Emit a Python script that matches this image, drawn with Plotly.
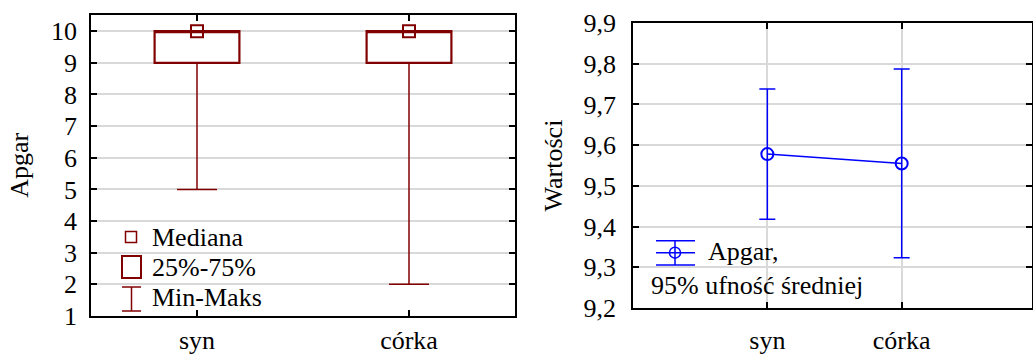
import plotly.graph_objects as go

# ---- data ----
groups = ["syn", "córka"]
q1 = [9, 9]
median = [10, 10]
q3 = [10, 10]
vmin = [5, 2]
vmax = [10, 10]

means = [9.578, 9.555]
ci_low = [9.418, 9.3235]
ci_high = [9.738, 9.787]

left_yticks = [1, 2, 3, 4, 5, 6, 7, 8, 9, 10]
right_yticks = [9.2, 9.3, 9.4, 9.5, 9.6, 9.7, 9.8, 9.9]

W, H = 1033, 356
RED = "#800000"
BLUE = "#0000FF"
GRID = "#d9d9d9"
FONT = "Liberation Serif"
FS = 26

def X(px):
    return px / W

def Y(py):
    return 1 - py / H

fig = go.Figure()

# Box (25%-75%)
fig.add_trace(go.Box(
    x=groups, q1=q1, median=median, q3=q3,
    lowerfence=q1, upperfence=q3,
    width=0.4, whiskerwidth=0,
    fillcolor="rgba(0,0,0,0)",
    line=dict(color=RED, width=2.2),
    boxpoints=False, hoverinfo="skip",
    xaxis="x", yaxis="y", showlegend=False,
))
# Min-Max whiskers
fig.add_trace(go.Scatter(
    x=groups, y=q1, mode="markers",
    marker=dict(size=1, color="rgba(0,0,0,0)"),
    error_y=dict(type="data", symmetric=False,
                 array=[a - b for a, b in zip(vmax, q3)],
                 arrayminus=[a - b for a, b in zip(q1, vmin)],
                 color=RED, thickness=1.5, width=20),
    xaxis="x", yaxis="y", showlegend=False,
))
# Median markers
fig.add_trace(go.Scatter(
    x=groups, y=median, mode="markers",
    marker=dict(symbol="square-open", size=12, color=RED, line=dict(width=2)),
    xaxis="x", yaxis="y", showlegend=False,
))

# Right: means with 95% CI
fig.add_trace(go.Scatter(
    x=groups, y=means, mode="lines+markers",
    line=dict(color=BLUE, width=1.5),
    marker=dict(symbol="circle-open", size=12, color=BLUE, line=dict(width=2)),
    error_y=dict(type="data", symmetric=False,
                 array=[h - m for h, m in zip(ci_high, means)],
                 arrayminus=[m - l for m, l in zip(means, ci_low)],
                 color=BLUE, thickness=1.5, width=8),
    xaxis="x2", yaxis="y2", showlegend=False,
))

axis_common = dict(
    showline=True, linecolor="black", linewidth=1.8, mirror="ticks",
    ticks="inside", ticklen=6, tickcolor="black", tickwidth=1.5,
    tickfont=dict(family=FONT, size=FS, color="black"),
    zeroline=False, automargin=False,
)

fig.update_layout(
    width=W, height=H, autosize=False,
    margin=dict(l=0, r=0, t=0, b=0, pad=0),
    paper_bgcolor="white", plot_bgcolor="white",
    separators=", ",
    font=dict(family=FONT, size=FS, color="black"),
    showlegend=False,
    xaxis=dict(domain=[X(91), X(515)], type="category", range=[-0.5, 1.5],
               showgrid=False, ticklabelstandoff=0, **axis_common),
    yaxis=dict(domain=[Y(316), Y(14.7)], range=[1, 10.52], tickvals=left_yticks,
               showgrid=True, gridcolor=GRID, gridwidth=1.5,
               title=dict(text="Apgar", font=dict(family=FONT, size=FS), standoff=15),
               ticklabelstandoff=7, **axis_common),
    xaxis2=dict(domain=[X(633), X(1032)], type="category", range=[-1, 1.97],
                anchor="y2", showgrid=True, gridcolor=GRID, gridwidth=1.5,
                ticklabelstandoff=8, **axis_common),
    yaxis2=dict(domain=[Y(308), Y(23)], range=[9.2, 9.9], tickvals=right_yticks,
                tickformat=".1f", anchor="x2",
                showgrid=True, gridcolor=GRID, gridwidth=1.5,
                title=dict(text="Wartości", font=dict(family=FONT, size=FS), standoff=13),
                ticklabelstandoff=10, **axis_common),
)

shapes = []
# Left legend symbols
shapes.append(dict(type="rect", xref="paper", yref="paper",
                   x0=X(125.5), x1=X(136.5), y0=Y(242.5), y1=Y(231.5),
                   line=dict(color=RED, width=1.5)))
shapes.append(dict(type="rect", xref="paper", yref="paper",
                   x0=X(122), x1=X(141), y0=Y(278), y1=Y(256),
                   line=dict(color=RED, width=2)))
for (x0, y0, x1, y1) in [(122, 287, 141, 287), (122, 311, 141, 311), (131.5, 287, 131.5, 311)]:
    shapes.append(dict(type="line", xref="paper", yref="paper",
                       x0=X(x0), x1=X(x1), y0=Y(y0), y1=Y(y1),
                       line=dict(color=RED, width=1.5)))
# Right legend symbol
for (x0, y0, x1, y1) in [(656, 240.7, 695, 240.7), (656, 252.7, 695, 252.7),
                         (656, 265, 695, 265), (675, 240.7, 675, 265)]:
    shapes.append(dict(type="line", xref="paper", yref="paper",
                       x0=X(x0), x1=X(x1), y0=Y(y0), y1=Y(y1),
                       line=dict(color=BLUE, width=1.5)))
shapes.append(dict(type="circle", xref="paper", yref="paper",
                   x0=X(669.5), x1=X(680.5), y0=Y(258.2), y1=Y(247.2),
                   line=dict(color=BLUE, width=1.5)))
fig.update_layout(shapes=shapes)

ann = []
for text, px, py in [("Mediana", 150, 237), ("25%-75%", 150, 267), ("Min-Maks", 150, 297),
                     ("Apgar,", 706, 252), ("95% ufność średniej", 649, 285)]:
    ann.append(dict(text=text, xref="paper", yref="paper", x=X(px), y=Y(py),
                    xanchor="left", yanchor="middle", showarrow=False,
                    font=dict(family=FONT, size=FS, color="black")))
fig.update_layout(annotations=ann)

fig.write_html("out.html")
